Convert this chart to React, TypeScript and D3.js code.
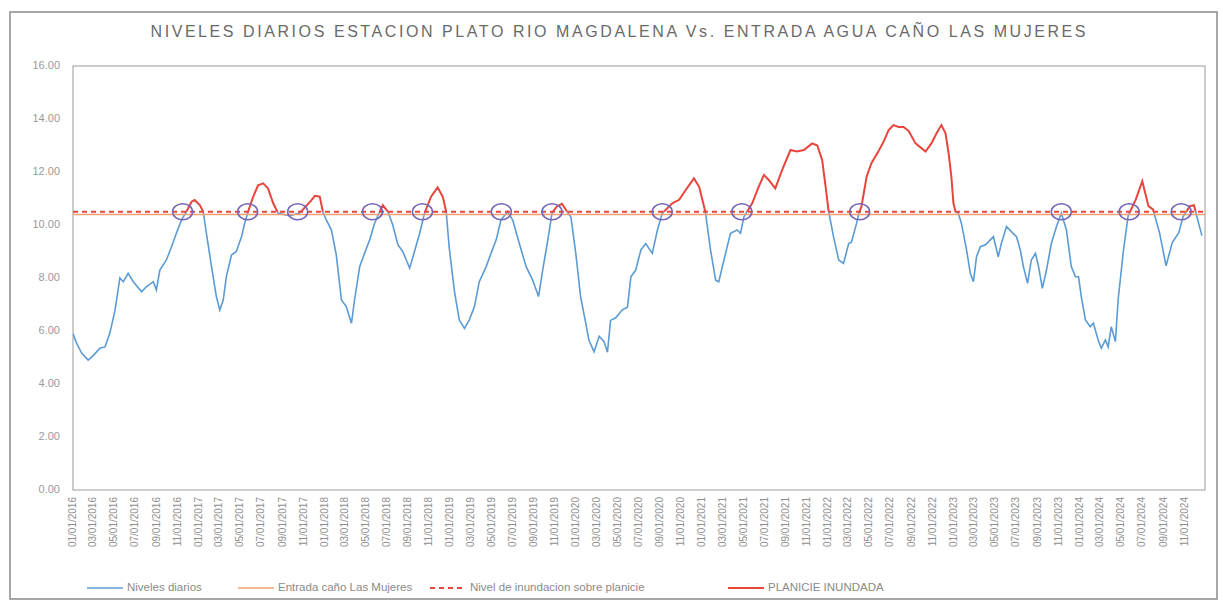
import * as d3 from "d3";

// niveles diarios estación Plato (m)
const nivelesDiarios: [string, number][] = [
  ["2016-01-01", 5.9], ["2016-01-11", 5.55], ["2016-01-26", 5.17], ["2016-02-14", 4.9],
  ["2016-03-01", 5.09], ["2016-03-19", 5.35], ["2016-04-03", 5.4], ["2016-04-17", 5.92],
  ["2016-05-02", 6.79], ["2016-05-16", 8.0], ["2016-05-26", 7.86], ["2016-06-09", 8.18],
  ["2016-06-24", 7.86], ["2016-07-18", 7.48], ["2016-08-01", 7.67], ["2016-08-21", 7.86],
  ["2016-08-30", 7.55], ["2016-09-09", 8.3], ["2016-09-28", 8.68], ["2016-10-13", 9.18],
  ["2016-10-27", 9.69], ["2016-11-11", 10.19], ["2016-11-25", 10.5], ["2016-12-10", 10.88],
  ["2016-12-19", 10.94],
  ["2017-01-03", 10.75], ["2017-01-13", 10.5], ["2017-01-22", 9.69], ["2017-02-06", 8.43],
  ["2017-02-20", 7.3], ["2017-03-02", 6.79], ["2017-03-12", 7.17], ["2017-03-21", 8.05],
  ["2017-04-05", 8.87], ["2017-04-19", 9.0], ["2017-05-04", 9.56], ["2017-05-13", 10.06],
  ["2017-05-23", 10.5], ["2017-06-07", 11.07], ["2017-06-21", 11.5], ["2017-07-06", 11.57],
  ["2017-07-20", 11.38], ["2017-08-04", 10.82], ["2017-08-18", 10.45], ["2017-09-02", 10.4],
  ["2017-09-21", 10.35], ["2017-10-20", 10.45], ["2017-11-23", 10.94], ["2017-12-03", 11.1],
  ["2017-12-17", 11.07], ["2017-12-26", 10.5],
  ["2018-01-05", 10.19], ["2018-01-20", 9.81], ["2018-02-03", 8.87], ["2018-02-18", 7.17],
  ["2018-03-04", 6.92], ["2018-03-19", 6.29], ["2018-03-28", 7.17], ["2018-04-12", 8.43],
  ["2018-04-26", 8.93], ["2018-05-11", 9.44], ["2018-05-25", 10.06], ["2018-06-09", 10.5],
  ["2018-06-18", 10.75], ["2018-07-03", 10.5], ["2018-07-17", 10.0], ["2018-08-01", 9.25],
  ["2018-08-15", 9.0], ["2018-09-04", 8.37], ["2018-09-18", 9.0], ["2018-10-03", 9.69],
  ["2018-10-17", 10.44], ["2018-11-05", 11.07], ["2018-11-24", 11.42], ["2018-12-09", 11.07],
  ["2018-12-19", 10.5], ["2018-12-28", 9.12],
  ["2019-01-12", 7.49], ["2019-01-26", 6.42], ["2019-02-10", 6.1], ["2019-02-24", 6.42],
  ["2019-03-11", 6.92], ["2019-03-25", 7.86], ["2019-04-14", 8.43], ["2019-04-28", 8.93],
  ["2019-05-13", 9.44], ["2019-05-27", 10.19], ["2019-06-15", 10.5], ["2019-06-30", 10.19],
  ["2019-07-19", 9.31], ["2019-08-08", 8.43], ["2019-08-27", 7.92], ["2019-09-13", 7.3],
  ["2019-09-25", 8.3], ["2019-10-10", 9.44], ["2019-10-22", 10.45], ["2019-11-05", 10.7],
  ["2019-11-20", 10.8], ["2019-12-05", 10.5], ["2019-12-16", 10.3], ["2019-12-30", 8.94],
  ["2020-01-13", 7.3], ["2020-01-28", 6.3], ["2020-02-06", 5.66], ["2020-02-21", 5.22],
  ["2020-03-07", 5.8], ["2020-03-21", 5.6], ["2020-03-31", 5.2], ["2020-04-09", 6.4],
  ["2020-04-24", 6.5], ["2020-05-13", 6.8], ["2020-05-28", 6.9], ["2020-06-07", 8.05],
  ["2020-06-21", 8.3], ["2020-07-06", 9.06], ["2020-07-20", 9.3], ["2020-08-08", 8.93],
  ["2020-08-23", 9.81], ["2020-09-06", 10.44], ["2020-10-05", 10.82], ["2020-10-25", 10.95],
  ["2020-11-13", 11.32], ["2020-12-07", 11.76], ["2020-12-22", 11.44],
  ["2021-01-09", 10.5], ["2021-01-24", 9.06], ["2021-02-08", 7.92], ["2021-02-17", 7.86],
  ["2021-03-04", 8.68], ["2021-03-23", 9.69], ["2021-04-11", 9.81], ["2021-04-21", 9.69],
  ["2021-05-01", 10.31], ["2021-05-25", 10.82], ["2021-06-13", 11.45], ["2021-06-28", 11.89],
  ["2021-07-12", 11.7], ["2021-07-31", 11.38], ["2021-08-20", 12.08], ["2021-09-13", 12.83],
  ["2021-10-02", 12.77], ["2021-10-22", 12.83], ["2021-11-15", 13.08], ["2021-11-30", 13.0],
  ["2021-12-14", 12.45], ["2021-12-24", 11.45],
  ["2022-01-02", 10.5], ["2022-01-16", 9.56], ["2022-01-31", 8.68], ["2022-02-14", 8.55],
  ["2022-03-01", 9.3], ["2022-03-09", 9.35], ["2022-03-24", 10.07], ["2022-04-01", 10.5],
  ["2022-04-07", 10.69], ["2022-04-22", 11.82], ["2022-05-06", 12.33], ["2022-05-26", 12.77],
  ["2022-06-10", 13.14], ["2022-06-25", 13.58], ["2022-07-09", 13.77], ["2022-07-24", 13.7],
  ["2022-08-07", 13.7], ["2022-08-22", 13.55], ["2022-09-11", 13.08], ["2022-10-10", 12.77],
  ["2022-10-27", 13.08], ["2022-11-11", 13.46], ["2022-11-25", 13.77], ["2022-12-07", 13.46],
  ["2022-12-16", 12.7], ["2022-12-24", 11.82], ["2022-12-30", 10.82],
  ["2023-01-05", 10.5], ["2023-01-13", 10.45], ["2023-01-22", 10.07], ["2023-02-06", 9.06],
  ["2023-02-17", 8.18], ["2023-02-26", 7.86], ["2023-03-07", 8.8], ["2023-03-18", 9.18],
  ["2023-04-02", 9.25], ["2023-04-16", 9.44], ["2023-04-25", 9.56], ["2023-05-09", 8.8],
  ["2023-05-18", 9.3], ["2023-06-02", 9.94], ["2023-06-16", 9.75], ["2023-07-01", 9.56],
  ["2023-07-12", 9.06], ["2023-07-21", 8.43], ["2023-08-02", 7.8], ["2023-08-13", 8.68],
  ["2023-08-25", 8.93], ["2023-09-03", 8.43], ["2023-09-14", 7.61], ["2023-09-26", 8.3],
  ["2023-10-10", 9.3], ["2023-10-25", 9.94], ["2023-11-08", 10.44], ["2023-11-23", 9.81],
  ["2023-12-07", 8.43], ["2023-12-19", 8.05], ["2023-12-28", 8.05],
  ["2024-01-05", 7.3], ["2024-01-17", 6.42], ["2024-01-31", 6.16], ["2024-02-09", 6.3],
  ["2024-02-23", 5.66], ["2024-03-03", 5.35], ["2024-03-15", 5.66], ["2024-03-23", 5.4],
  ["2024-04-01", 6.16], ["2024-04-13", 5.6], ["2024-04-21", 7.2], ["2024-05-06", 9.0],
  ["2024-05-20", 10.35], ["2024-06-11", 10.96], ["2024-06-30", 11.65], ["2024-07-18", 10.71],
  ["2024-07-31", 10.59], ["2024-08-19", 9.71], ["2024-09-07", 8.46], ["2024-09-25", 9.34],
  ["2024-10-14", 9.71], ["2024-10-26", 10.3], ["2024-11-15", 10.71], ["2024-11-27", 10.75],
  ["2024-12-10", 10.09], ["2024-12-20", 9.6],
];

const entradaCano = 10.4;
const nivelInundacion = 10.5;

// fechas en que el nivel alcanza la planicie (círculos)
const cruces = [
  "2016-11-14", "2017-05-22", "2017-10-14", "2018-05-19", "2018-10-11", "2019-05-28",
  "2019-10-22", "2020-09-06", "2021-04-25", "2022-04-02", "2023-11-08", "2024-05-23",
  "2024-10-21",
];

const yTicks = [0, 2, 4, 6, 8, 10, 12, 14, 16];

const xTickLabels = [
  "01/01/2016", "03/01/2016", "05/01/2016", "07/01/2016", "09/01/2016", "11/01/2016",
  "01/01/2017", "03/01/2017", "05/01/2017", "07/01/2017", "09/01/2017", "11/01/2017",
  "01/01/2018", "03/01/2018", "05/01/2018", "07/01/2018", "09/01/2018", "11/01/2018",
  "01/01/2019", "03/01/2019", "05/01/2019", "07/01/2019", "09/01/2019", "11/01/2019",
  "01/01/2020", "03/01/2020", "05/01/2020", "07/01/2020", "09/01/2020", "11/01/2020",
  "01/01/2021", "03/01/2021", "05/01/2021", "07/01/2021", "09/01/2021", "11/01/2021",
  "01/01/2022", "03/01/2022", "05/01/2022", "07/01/2022", "09/01/2022", "11/01/2022",
  "01/01/2023", "03/01/2023", "05/01/2023", "07/01/2023", "09/01/2023", "11/01/2023",
  "01/01/2024", "03/01/2024", "05/01/2024", "07/01/2024", "09/01/2024", "11/01/2024",
];

const leyenda = [
  { label: "Niveles diarios", color: "#5b9bd5", dash: "", width: 1.5 },
  { label: "Entrada caño Las Mujeres", color: "#f4a06e", dash: "", width: 1.5 },
  { label: "Nivel de inundacion sobre planicie", color: "#e8453c", dash: "5,4", width: 2 },
  { label: "PLANICIE INUNDADA", color: "#e8453c", dash: "", width: 2 },
];

const TITLE = "NIVELES DIARIOS ESTACION PLATO RIO MAGDALENA  Vs. ENTRADA AGUA CAÑO LAS MUJERES";
const FONT = "'Liberation Sans', Arial, sans-serif";
const W = 1223;
const H = 602;
const plot = { left: 73, top: 66, right: 1205, bottom: 490 };
const legendX = [87, 238, 430, 728];

export default function App() {
  const parse = d3.timeParse("%Y-%m-%d");
  const parseTick = d3.timeParse("%m/%d/%Y");

  const x = d3
    .scaleTime()
    .domain([parse("2016-01-01")!, parse("2024-12-29")!])
    .range([plot.left, plot.right]);
  const y = d3.scaleLinear().domain([0, 16]).range([plot.bottom, plot.top]);

  const serie = nivelesDiarios.map(([f, v]) => [parse(f)!, v] as [Date, number]);
  const line = d3
    .line<[Date, number]>()
    .x((d) => x(d[0]))
    .y((d) => y(d[1]));
  const path = line(serie) ?? "";
  const yFlood = y(nivelInundacion);

  return (
    <svg
      width={W}
      height={H}
      style={{ position: "absolute", left: 0, top: 0, background: "#fff" }}
      fontFamily={FONT}
    >
      <defs>
        <clipPath id="bajo">
          <rect x={plot.left} y={yFlood} width={plot.right - plot.left} height={plot.bottom - yFlood} />
        </clipPath>
        <clipPath id="alto">
          <rect x={plot.left} y={plot.top} width={plot.right - plot.left} height={yFlood - plot.top} />
        </clipPath>
      </defs>

      <rect x={10} y={12} width={1207} height={587} fill="#fff" stroke="#8a8a8a" strokeWidth={1.5} />

      <text
        x={618}
        y={37}
        textAnchor="middle"
        fontSize={16}
        fill="#6a6a6a"
        textLength={935}
        lengthAdjust="spacing"
      >
        {TITLE}
      </text>

      <rect
        x={plot.left}
        y={plot.top}
        width={plot.right - plot.left}
        height={plot.bottom - plot.top}
        fill="none"
        stroke="#9a9a9a"
        strokeWidth={1}
      />

      {yTicks.map((t) => (
        <text
          key={t}
          x={60}
          y={y(t)}
          textAnchor="end"
          dominantBaseline="middle"
          fontSize={11}
          fill="#9a9a9a"
        >
          {t.toFixed(2)}
        </text>
      ))}

      {xTickLabels.map((l) => (
        <text
          key={l}
          transform={`translate(${x(parseTick(l)!)},${plot.bottom + 7}) rotate(-90)`}
          textAnchor="end"
          dominantBaseline="middle"
          fontSize={10}
          fill="#8e8e8e"
        >
          {l}
        </text>
      ))}

      <path d={path} fill="none" stroke="#5b9bd5" strokeWidth={1.6} clipPath="url(#bajo)" />
      <path d={path} fill="none" stroke="#e8453c" strokeWidth={2} clipPath="url(#alto)" />

      <line
        x1={plot.left}
        x2={plot.right}
        y1={y(entradaCano)}
        y2={y(entradaCano)}
        stroke="#f4a06e"
        strokeWidth={1.5}
      />
      <line
        x1={plot.left}
        x2={plot.right}
        y1={yFlood}
        y2={yFlood}
        stroke="#e8453c"
        strokeWidth={2}
        strokeDasharray="5,4"
      />

      {cruces.map((f) => (
        <ellipse
          key={f}
          cx={x(parse(f)!)}
          cy={yFlood}
          rx={10}
          ry={8}
          fill="none"
          stroke="#7465b8"
          strokeWidth={1.5}
        />
      ))}

      {leyenda.map((it, i) => (
        <g key={it.label} transform={`translate(${legendX[i]},588)`}>
          <line
            x1={0}
            x2={36}
            y1={0}
            y2={0}
            stroke={it.color}
            strokeWidth={it.width}
            strokeDasharray={it.dash || undefined}
          />
          <text x={40} y={0} dominantBaseline="middle" fontSize={11.5} fill="#8a8a8a">
            {it.label}
          </text>
        </g>
      ))}
    </svg>
  );
}
